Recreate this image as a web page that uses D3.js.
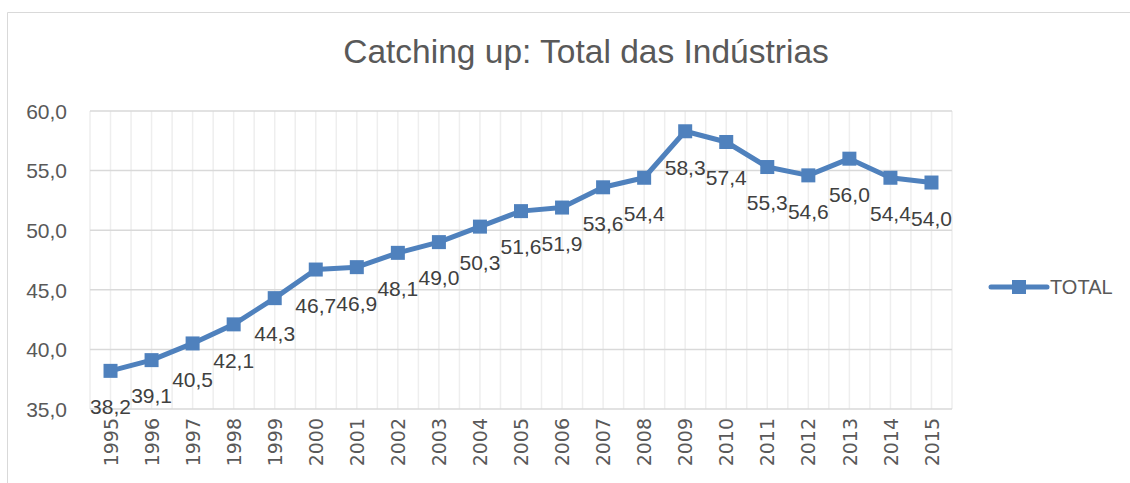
<!DOCTYPE html>
<head>
    <meta charset="utf-8">
    <title>Catching up</title>
    <script src="https://cdn.jsdelivr.net/npm/d3@7/dist/d3.min.js"></script>
</head>
<style>
    body { margin: 0; background: #fff; }
    text { font-family: 'Liberation Sans', Arial, sans-serif; fill: #595959; }
</style>
<body>
    <svg></svg>
</body>

<script>
    var vWidth = 1130;
    var vHeight = 483;

    var years = ['1995', '1996', '1997', '1998', '1999', '2000', '2001', '2002', '2003', '2004',
        '2005', '2006', '2007', '2008', '2009', '2010', '2011', '2012', '2013', '2014', '2015'];
    var totalValues = [38.2, 39.1, 40.5, 42.1, 44.3, 46.7, 46.9, 48.1, 49.0, 50.3,
        51.6, 51.9, 53.6, 54.4, 58.3, 57.4, 55.3, 54.6, 56.0, 54.4, 54.0];
    var yTicks = [35, 40, 45, 50, 55, 60];

    var vColor = '#4f81bd';
    var fmt = function (v) { return v.toFixed(1).replace('.', ','); };

    var svg = d3.select('svg')
        .attr('width', vWidth)
        .attr('height', vHeight);

    // chart frame
    svg.append('path')
        .attr('d', 'M7.5,' + vHeight + ' V12.5 H' + vWidth)
        .attr('fill', 'none')
        .attr('stroke', '#d9d9d9')
        .attr('stroke-width', 1);

    // scales
    var x = d3.scalePoint().domain(years).range([90, 952]).padding(0.5);
    var y = d3.scaleLinear().domain([35, 60]).range([409, 111]);
    var step = x.step();

    // vertical grid: category centres and boundaries
    var vLines = [];
    years.forEach(function (d) { vLines.push(x(d) - step / 2); vLines.push(x(d)); });
    vLines.push(x(years[years.length - 1]) + step / 2);
    svg.append('g').selectAll('line')
        .data(vLines)
        .enter().append('line')
        .attr('x1', function (d) { return d; })
        .attr('x2', function (d) { return d; })
        .attr('y1', y(60))
        .attr('y2', y(35))
        .attr('stroke', '#eeeeee')
        .attr('stroke-width', 1.5);

    // horizontal grid
    svg.append('g').selectAll('line')
        .data(yTicks)
        .enter().append('line')
        .attr('x1', 90)
        .attr('x2', 952)
        .attr('y1', function (d) { return y(d); })
        .attr('y2', function (d) { return y(d); })
        .attr('stroke', '#d9d9d9')
        .attr('stroke-width', 1.5);

    // y axis labels
    var yAxis = svg.append('g')
        .attr('transform', 'translate(78,0)')
        .call(d3.axisLeft(y).tickValues(yTicks).tickFormat(fmt).tickSize(0).tickPadding(0));
    yAxis.select('.domain').remove();
    yAxis.selectAll('text')
        .style('font-size', '21px')
        .attr('dy', '0.35em')
        .attr('x', -11);

    // x axis labels (rotated)
    var xAxis = svg.append('g')
        .attr('transform', 'translate(0,' + y(35) + ')')
        .call(d3.axisBottom(x).tickSize(0));
    xAxis.select('.domain').remove();
    xAxis.selectAll('text')
        .style('font-family', "'DejaVu Sans', sans-serif")
        .style('font-size', '19px')
        .attr('text-anchor', 'end')
        .attr('transform', 'rotate(-90)')
        .attr('x', -9)
        .attr('y', 0)
        .attr('dy', '0.35em');

    // line
    var line = d3.line()
        .x(function (d, i) { return x(years[i]); })
        .y(function (d) { return y(d); });

    svg.append('path')
        .datum(totalValues)
        .attr('d', line)
        .attr('fill', 'none')
        .attr('stroke', vColor)
        .attr('stroke-width', 5)
        .attr('stroke-linejoin', 'round');

    // markers
    svg.append('g').selectAll('rect')
        .data(totalValues)
        .enter().append('rect')
        .attr('x', function (d, i) { return x(years[i]) - 7; })
        .attr('y', function (d) { return y(d) - 7; })
        .attr('width', 14)
        .attr('height', 14)
        .attr('fill', vColor);

    // data labels below points
    svg.append('g').selectAll('text')
        .data(totalValues)
        .enter().append('text')
        .attr('x', function (d, i) { return x(years[i]); })
        .attr('y', function (d) { return y(d) + 36; })
        .attr('dy', '0.35em')
        .attr('text-anchor', 'middle')
        .style('font-size', '21px')
        .style('fill', '#404040')
        .text(fmt);

    // title
    var title = svg.append('text')
        .attr('x', 586)
        .attr('y', 51)
        .attr('dy', '0.35em')
        .attr('text-anchor', 'middle')
        .style('font-size', '28px')
        .text('Catching up: Total das Indústrias');
    var tw = title.node().getComputedTextLength();
    title.style('font-size', (28 * 486 / tw) + 'px');

    // legend
    var lg = svg.append('g').attr('transform', 'translate(991,287)');
    lg.append('line')
        .attr('x1', 0).attr('x2', 56)
        .attr('stroke', vColor)
        .attr('stroke-width', 5)
        .attr('stroke-linecap', 'round');
    lg.append('rect')
        .attr('x', 21).attr('y', -7)
        .attr('width', 14).attr('height', 14)
        .attr('fill', vColor);
    lg.append('text')
        .attr('x', 59)
        .attr('dy', '0.35em')
        .style('font-size', '20px')
        .text('TOTAL');
</script>
